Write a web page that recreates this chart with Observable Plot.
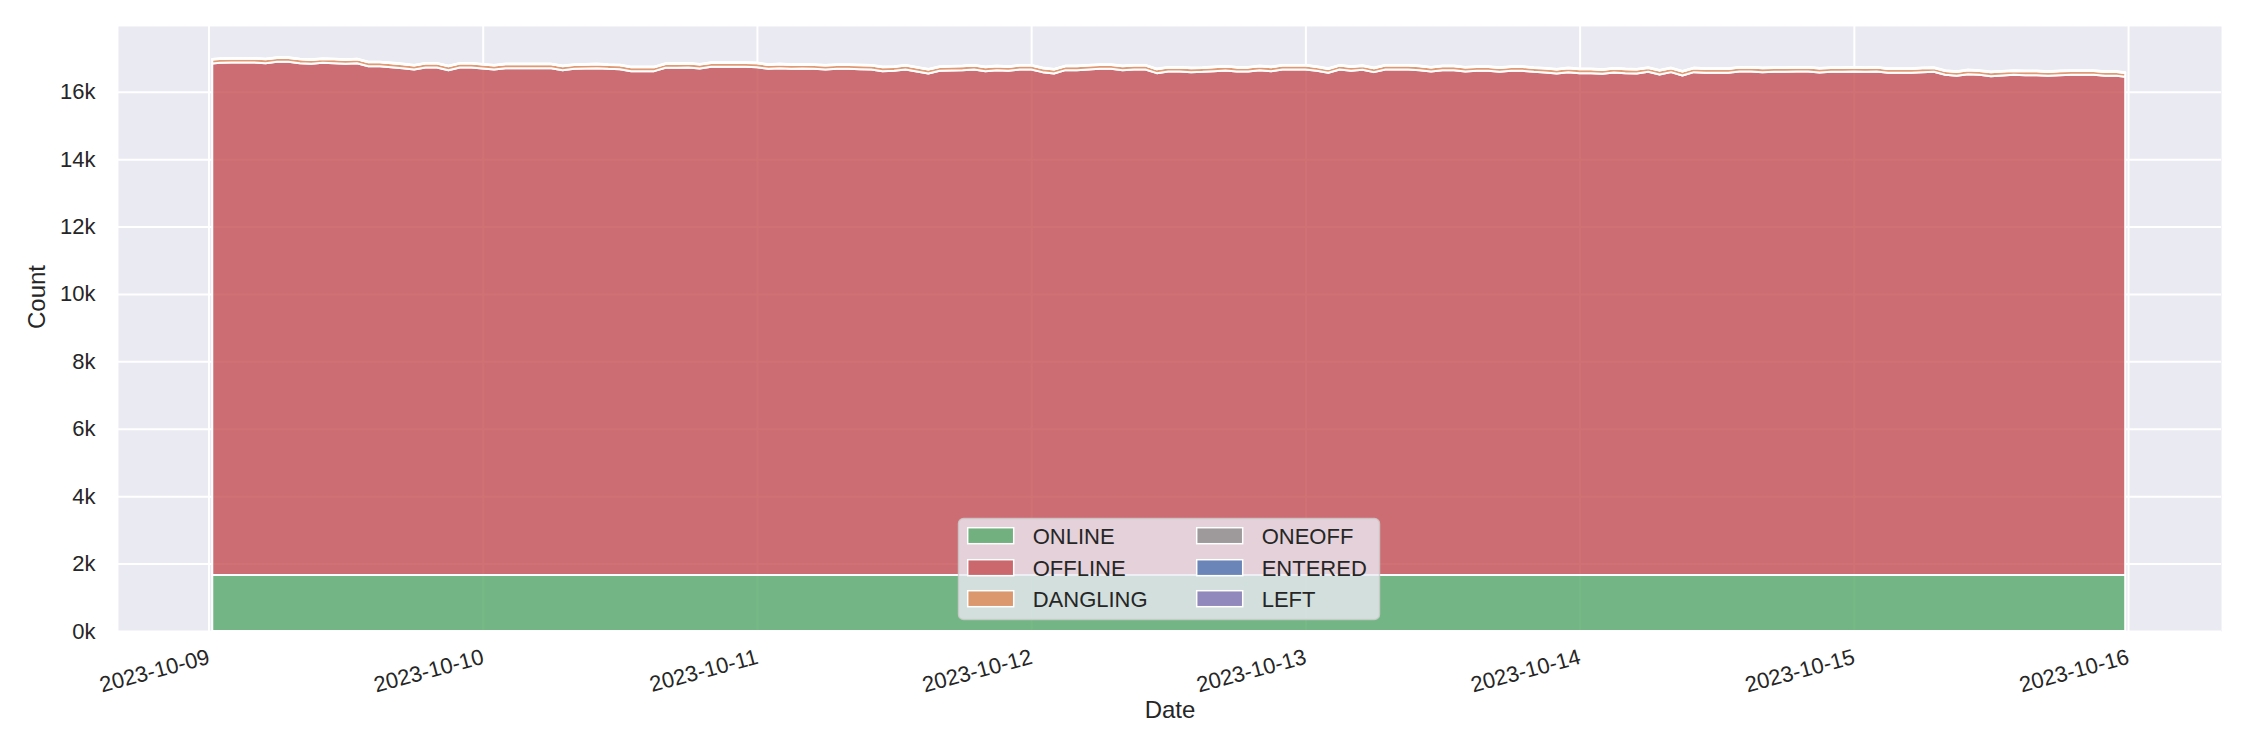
<!DOCTYPE html>
<html>
<head>
<meta charset="utf-8">
<script src="https://cdn.jsdelivr.net/npm/d3@7"></script>
<script src="https://cdn.jsdelivr.net/npm/@observablehq/plot@0.6"></script>
<style>
html, body { margin: 0; padding: 0; background: #fff; }
#wrap { position: relative; width: 2250px; height: 750px; font-family: "Liberation Sans", Arial, sans-serif; color: #262626; }
#wrap svg.overlay { position: absolute; left: 0; top: 0; pointer-events: none; }
</style>
</head>
<body>
<div id="wrap"></div>
<script>
// ---- data ----
const seriesNames = ["ONLINE", "OFFLINE", "DANGLING", "ONEOFF", "ENTERED", "LEFT"];
const seriesColors = ["#55a868", "#c44e52", "#dd8452", "#8c8c8c", "#4c72b0", "#8172b3"];

// sample times: first sample 2023-10-09 00:20 UTC, then hourly, last 2023-10-15 23:45 UTC
const startTime = "2023-10-09T00:20:00Z";
const endTime = "2023-10-15T23:45:00Z";
const times = [new Date(startTime)]
  .concat(d3.range(1, 168).map(h => d3.utcHour.offset(new Date("2023-10-09T00:00:00Z"), h)))
  .concat([new Date(endTime)]);

const online = [
1665,1665,1665,1665,1665,1665,1665,1665,1665,1665,1665,1665,1665,1665,1665,1665,1665,1665,1665,1665,
1665,1665,1665,1665,1665,1665,1665,1665,1665,1665,1665,1665,1665,1665,1665,1665,1665,1665,1665,1665,
1665,1665,1665,1665,1665,1665,1665,1665,1665,1665,1665,1665,1665,1665,1665,1665,1665,1665,1665,1665,
1665,1665,1665,1665,1665,1665,1665,1665,1665,1665,1665,1665,1665,1665,1665,1665,1665,1665,1665,1665,
1665,1665,1665,1665,1665,1665,1665,1665,1665,1665,1665,1665,1665,1665,1665,1665,1665,1665,1665,1665,
1665,1665,1665,1665,1665,1665,1665,1665,1665,1665,1665,1665,1665,1665,1665,1665,1665,1665,1665,1665,
1665,1665,1665,1665,1665,1665,1665,1665,1665,1665,1665,1665,1665,1665,1665,1665,1665,1665,1665,1665,
1665,1665,1665,1665,1665,1665,1665,1665,1665,1665,1665,1665,1665,1665,1665,1665,1665,1665,1665,1665,
1665,1665,1665,1665,1665,1665,1665,1665,1665
];

const offline = [
15173,15192,15202,15202,15202,15182,15222,15222,15182,15163,
15192,15182,15163,15182,15093,15093,15064,15034,14995,15054,
15054,14975,15054,15054,15024,14995,15034,15034,15034,15034,
15034,14975,15014,15024,15034,15014,15004,14945,14945,14945,
15044,15044,15054,15024,15074,15074,15074,15074,15064,15014,
15034,15014,15024,15014,14995,15014,15014,15004,14995,14945,
14955,14995,14935,14876,14955,14965,14975,14995,14945,14975,
14955,14995,14995,14916,14876,14975,14975,14995,15014,15014,
14975,14995,14995,14886,14935,14935,14916,14925,14945,14965,
14935,14935,14975,14945,14995,14995,14995,14955,14896,14995,
14955,14985,14916,14995,14995,14995,14975,14935,14975,14975,
14935,14955,14955,14925,14955,14955,14925,14906,14876,14916,
14886,14886,14866,14906,14886,14876,14925,14846,14916,14817,
14916,14896,14896,14896,14935,14935,14916,14925,14925,14935,
14935,14906,14925,14925,14935,14925,14935,14896,14896,14896,
14916,14925,14836,14807,14856,14836,14797,14817,14836,14827,
14827,14807,14827,14836,14836,14836,14807,14807,
14777
];

const dangling = [
115,115,115,115,115,115,115,115,115,115,115,115,115,115,115,115,115,115,115,115,
115,115,115,115,115,115,115,115,115,115,115,115,115,115,115,115,115,115,115,115,
115,115,115,115,115,115,115,115,115,115,115,115,115,115,115,115,115,115,115,115,
115,115,115,115,115,115,115,115,115,115,115,115,115,115,115,115,115,115,115,115,
115,115,115,115,115,115,115,115,115,115,115,115,115,115,115,115,115,115,115,115,
115,115,115,115,115,115,115,115,115,115,115,115,115,115,115,115,115,115,115,115,
115,115,115,115,115,115,115,115,115,115,115,115,115,115,115,115,115,115,115,115,
115,115,115,115,115,115,115,115,115,115,115,115,115,115,115,115,115,115,115,115,
115,115,115,115,115,115,115,115,115
];

const oneoff = [
10,10,10,10,10,10,10,10,10,10,10,10,10,10,10,10,10,10,10,10,
10,10,10,10,10,10,10,10,10,10,10,10,10,10,10,10,10,10,10,10,
10,10,10,10,10,10,10,10,10,10,10,10,10,10,10,10,10,10,10,10,
10,10,10,10,10,10,10,10,10,10,10,10,10,10,10,10,10,10,10,10,
10,10,10,10,10,10,10,10,10,10,10,10,10,10,10,10,10,10,10,10,
10,10,10,10,10,10,10,10,10,10,10,10,10,10,10,10,10,10,10,10,
10,10,10,10,10,10,10,10,10,10,10,10,10,10,10,10,10,10,10,10,
10,10,10,10,10,10,10,10,10,10,10,10,10,10,10,10,10,10,10,10,
10,10,10,10,10,10,10,10,10
];

const entered = [
5,5,5,5,5,5,5,5,5,5,5,5,5,5,5,5,5,5,5,5,
5,5,5,5,5,5,5,5,5,5,5,5,5,5,5,5,5,5,5,5,
5,5,5,5,5,5,5,5,5,5,5,5,5,5,5,5,5,5,5,5,
5,5,5,5,5,5,5,5,5,5,5,5,5,5,5,5,5,5,5,5,
5,5,5,5,5,5,5,5,5,5,5,5,5,5,5,5,5,5,5,5,
5,5,5,5,5,5,5,5,5,5,5,5,5,5,5,5,5,5,5,5,
5,5,5,5,5,5,5,5,5,5,5,5,5,5,5,5,5,5,5,5,
5,5,5,5,5,5,5,5,5,5,5,5,5,5,5,5,5,5,5,5,
5,5,5,5,5,5,5,5,5
];

const left = [
5,5,5,5,5,5,5,5,5,5,5,5,5,5,5,5,5,5,5,5,
5,5,5,5,5,5,5,5,5,5,5,5,5,5,5,5,5,5,5,5,
5,5,5,5,5,5,5,5,5,5,5,5,5,5,5,5,5,5,5,5,
5,5,5,5,5,5,5,5,5,5,5,5,5,5,5,5,5,5,5,5,
5,5,5,5,5,5,5,5,5,5,5,5,5,5,5,5,5,5,5,5,
5,5,5,5,5,5,5,5,5,5,5,5,5,5,5,5,5,5,5,5,
5,5,5,5,5,5,5,5,5,5,5,5,5,5,5,5,5,5,5,5,
5,5,5,5,5,5,5,5,5,5,5,5,5,5,5,5,5,5,5,5,
5,5,5,5,5,5,5,5,5
];

const xTickDates = ["2023-10-09","2023-10-10","2023-10-11","2023-10-12","2023-10-13","2023-10-14","2023-10-15","2023-10-16"];
const yTickValues = [0, 2000, 4000, 6000, 8000, 10000, 12000, 14000, 16000];
const xDomain = ["2023-10-08T16:05:00Z", "2023-10-16T08:08:00Z"];
const yDomain = [0, 17950];

// ---- build table ----
const seriesValues = [online, offline, dangling, oneoff, entered, left];
const rows = [];
seriesNames.forEach((name, s) => {
  times.forEach((t, i) => rows.push({date: t, series: name, count: seriesValues[s][i]}));
});
const dayTicks = xTickDates.map(d => new Date(d + "T00:00:00Z"));
const fmt = d3.utcFormat("%Y-%m-%d");

const chart = Plot.plot({
  width: 2250,
  height: 750,
  marginLeft: 118,
  marginRight: 29,
  marginTop: 26,
  marginBottom: 119,
  style: {fontFamily: '"Liberation Sans", Arial, sans-serif', fontSize: "22px", color: "#262626", background: "transparent"},
  x: {type: "utc", domain: xDomain.map(d => new Date(d))},
  y: {domain: yDomain},
  color: {domain: seriesNames, range: seriesColors},
  marks: [
    Plot.frame({fill: "#eaeaf2", stroke: null}),
    Plot.ruleX(dayTicks, {stroke: "#ffffff", strokeWidth: 2}),
    Plot.ruleY(yTickValues, {stroke: "#ffffff", strokeWidth: 2}),
    Plot.areaY(rows, {x: "date", y: "count", z: "series", fill: "series", fillOpacity: 0.8, stroke: "#ffffff", strokeWidth: 2}),
    Plot.axisX({ticks: dayTicks, tickFormat: fmt, tickRotate: -15, tickSize: 0, tickPadding: 25, label: null, fontSize: 22}),
    Plot.axisY({ticks: yTickValues, tickFormat: d => d / 1000 + "k", tickSize: 0, tickPadding: 23, label: null, fontSize: 22}),
    Plot.text(["Count"], {text: d => d, frameAnchor: "left", dx: -81, rotate: -90, fontSize: 24}),
    Plot.text(["Date"], {text: d => d, frameAnchor: "bottom", dy: 86, fontSize: 24})
  ]
});

const wrap = document.getElementById("wrap");
wrap.appendChild(chart);

// ---- legend overlay ----
const lg = d3.create("svg").attr("class", "overlay").attr("width", 2250).attr("height", 750);
const lx = 958, ly = 518;
lg.append("rect")
  .attr("x", lx + 0.5).attr("y", ly + 0.5).attr("width", 421).attr("height", 101)
  .attr("rx", 5).attr("ry", 5)
  .attr("fill", "#eaeaf2").attr("fill-opacity", 0.8)
  .attr("stroke", "#cccccc").attr("stroke-opacity", 0.8).attr("stroke-width", 1.5);
const colX = [[9.7, 74.7], [238.7, 303.7]];
const rowY = [17.7, 49.7, 80.7];
seriesNames.forEach((name, i) => {
  const c = Math.floor(i / 3), r = i % 3;
  const cy = ly + rowY[r];
  lg.append("rect")
    .attr("x", lx + colX[c][0]).attr("y", cy - 8).attr("width", 46).attr("height", 16)
    .attr("fill", seriesColors[i]).attr("fill-opacity", 0.8)
    .attr("stroke", "#ffffff").attr("stroke-width", 1.5);
  lg.append("text")
    .attr("x", lx + colX[c][1]).attr("y", cy + 8)
    .attr("font-family", '"Liberation Sans", Arial, sans-serif')
    .attr("font-size", 22).attr("fill", "#262626")
    .text(name);
});
wrap.appendChild(lg.node());
</script>
</body>
</html>
